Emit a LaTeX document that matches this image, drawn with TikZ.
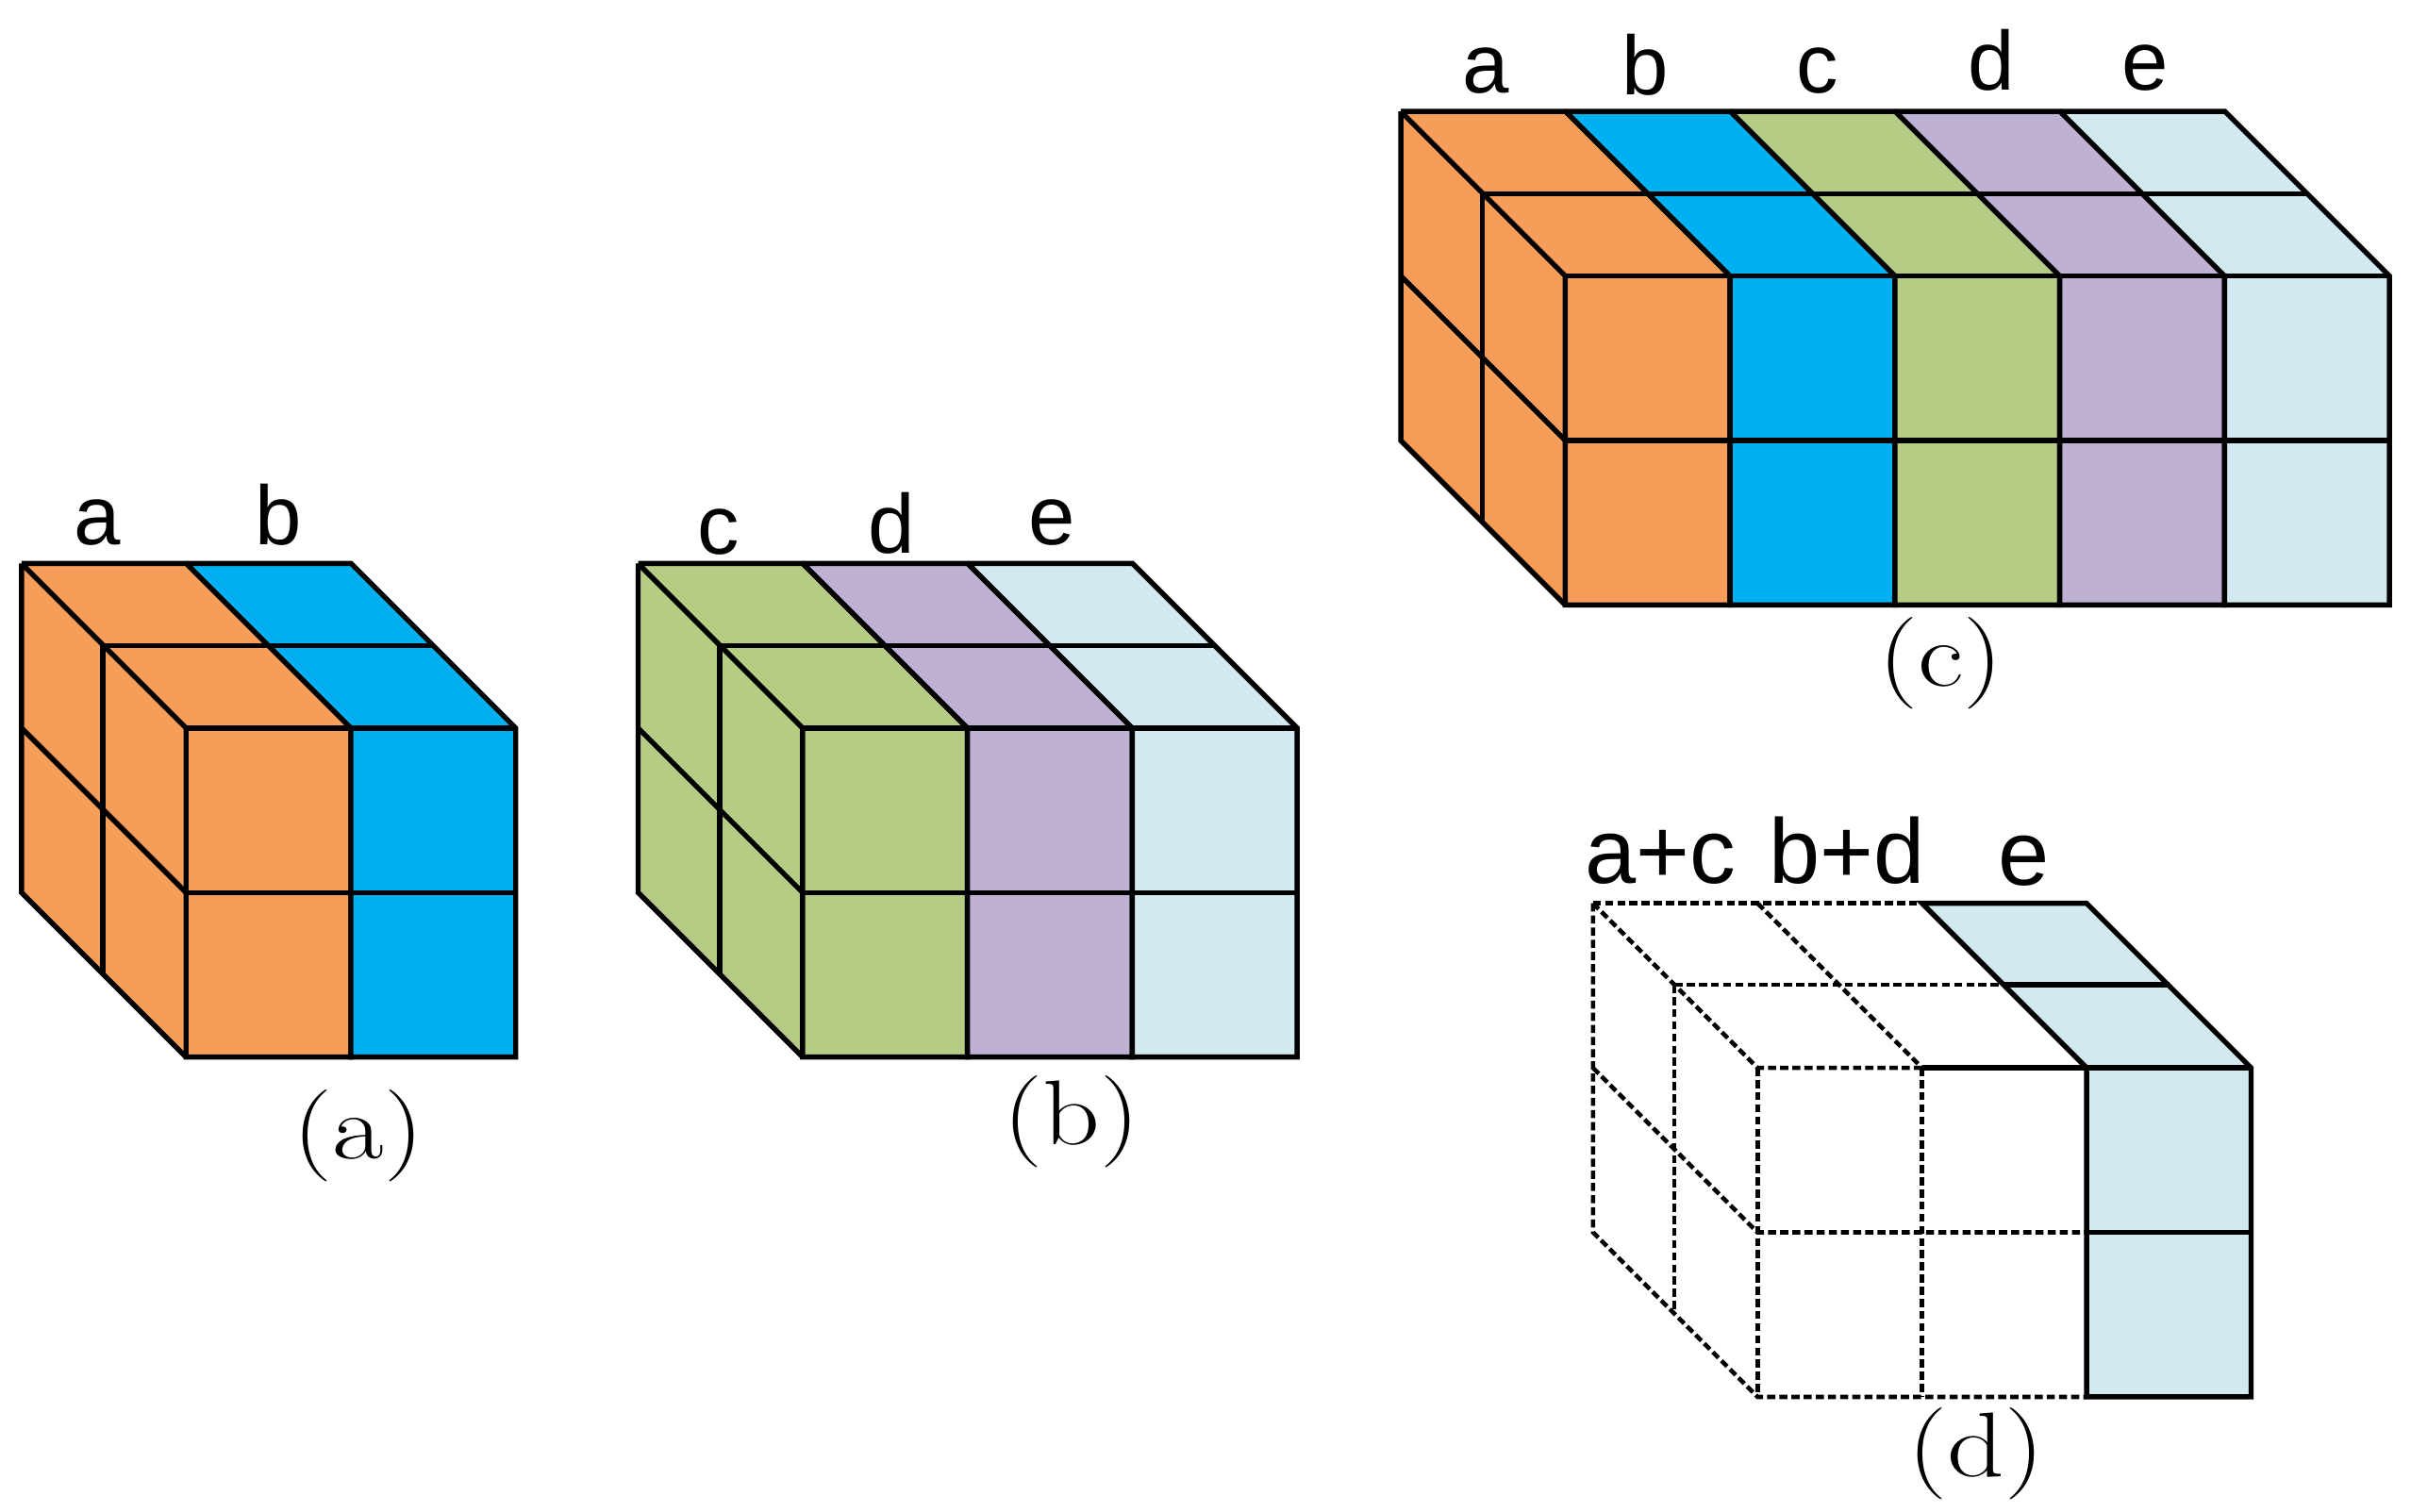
\documentclass[tikz,border=0pt]{standalone}
\usepackage{fontspec}
\newfontfamily\lblfont{Liberation Sans}
\definecolor{cOrange}{HTML}{F59D59}
\definecolor{cBlue}{HTML}{00B0F0}
\definecolor{cGreen}{HTML}{B6CC85}
\definecolor{cPurple}{HTML}{BFB1D3}
\definecolor{cIce}{HTML}{D2E9EF}
\tikzset{
  edge/.style={draw=black,line width=1.9pt,line join=miter},
  dashedge/.style={draw=black,line width=1.6pt,dash pattern=on 3pt off 1.5pt},
  lbl/.style={anchor=base,inner sep=0pt,font=\lblfont\fontsize{31}{31}\selectfont},
  lblwide/.style={anchor=base,inner sep=0pt,font=\lblfont\fontsize{34}{34}\selectfont},
  captext/.style={anchor=base,inner sep=0pt,font=\rmfamily\fontsize{34}{34}\selectfont,xscale=1.22,transform shape},
}
% #1 x0, #2 y0 (back top-left), #3 list of col/colour pairs
\newcommand{\solidblock}[3]{%
  \begin{scope}[shift={(#1,#2)}]
    \foreach \c/\col [count=\i from 0] in {#3}{%
      \pgfmathsetmacro{\xa}{\i*107.2}
      \pgfmathsetmacro{\xb}{(\i+1)*107.2}
      \fill[\col] (\xa,0) -- (\xb,0) -- (\xb+107,-107) -- (\xb+107,-321) -- (\xa+107,-321) -- (\xa+107,-107) -- cycle;
      \ifnum\i=0
        \fill[\col] (0,0) -- (107,-107) -- (107,-321) -- (0,-214) -- cycle;
      \fi
      \draw[edge] (\xa,0) -- (\xb,0) -- (\xb+107,-107) -- (\xb+107,-321) -- (\xa+107,-321) -- (\xa+107,-107) -- (\xa,0);
      \draw[edge] (\xa+53,-53.5) -- (\xb+53,-53.5);
      \draw[edge] (\xa+107,-107) -- (\xb+107,-107);
      \draw[edge] (\xa+107,-214) -- (\xb+107,-214);
    }
    \draw[edge] (0,0) -- (0,-214) -- (107,-321);
    \draw[edge] (53,-53.5) -- (53,-267.5);
    \draw[edge] (0,-107) -- (107,-214);
  \end{scope}%
}
\begin{document}
\begin{tikzpicture}[x=0.02cm,y=-0.02cm]
\useasboundingbox (0,-0.5) rectangle (1568,982.5);
\fill[white] (0,-0.5) rectangle (1568,982.5);

% cube (a), (b), (c): y is measured downwards, so the block is flipped
\begin{scope}[yscale=-1]
\solidblock{14}{-366}{a/cOrange,b/cBlue}
\solidblock{415}{-366}{c/cGreen,d/cPurple,e/cIce}
\solidblock{911}{-72}{a/cOrange,b/cBlue,c/cGreen,d/cPurple,e/cIce}
\end{scope}

% cube (d)
\fill[cIce] (1250,587) -- (1357,587) -- (1464,694) -- (1464,908) -- (1357,908) -- (1357,694) -- cycle;
\draw[dashedge] (1036,587) -- (1250,587);
\draw[dashedge] (1143,587) -- (1250,694);
\draw[dashedge] (1089,640) -- (1303,640);
\draw[dashedge] (1036,587) -- (1143,694) -- (1250,694);
\draw[dashedge] (1036,587) -- (1036,801) -- (1143,908) -- (1357,908);
\draw[dashedge] (1036,694) -- (1143,801) -- (1357,801);
\draw[dashedge] (1089,640) -- (1089,854);
\draw[dashedge] (1143,694) -- (1143,908);
\draw[dashedge] (1250,694) -- (1250,908);
\draw[edge] (1250,587) -- (1357,587) -- (1464,694) -- (1464,908) -- (1357,908) -- (1357,694) -- cycle;
\draw[edge] (1303,640) -- (1411,640);
\draw[edge] (1250,694) -- (1464,694);
\draw[edge] (1357,801) -- (1464,801);

% labels
\node[lbl] (la) at (63,354) {a};
\node[lbl] (lb) at (181,354) {b};
\node[lbl] (lc) at (467,360) {c};
\node[lbl] (ld) at (580,359) {d};
\node[lbl] (le) at (684,354) {e};
\node[lbl] (ca) at (966,60) {a};
\node[lbl] (cb) at (1070,61) {b};
\node[lbl] (cc) at (1182,60) {c};
\node[lbl] (cd) at (1295,58) {d};
\node[lbl] (ce) at (1395,58) {e};
\node[lblwide] (dac) at (1080,574) {a+c};
\node[lblwide] (dbd) at (1201,574) {b+d};
\node[lblwide] (de) at (1316,575) {e};
% captions
\node[captext] (capa) at (233,753) {(a)};
\node[captext] (capb) at (697,744) {(b)};
\node[captext] (capc) at (1262,446) {(c)};
\node[captext] (capd) at (1285,960) {(d)};
\end{tikzpicture}
\end{document}
